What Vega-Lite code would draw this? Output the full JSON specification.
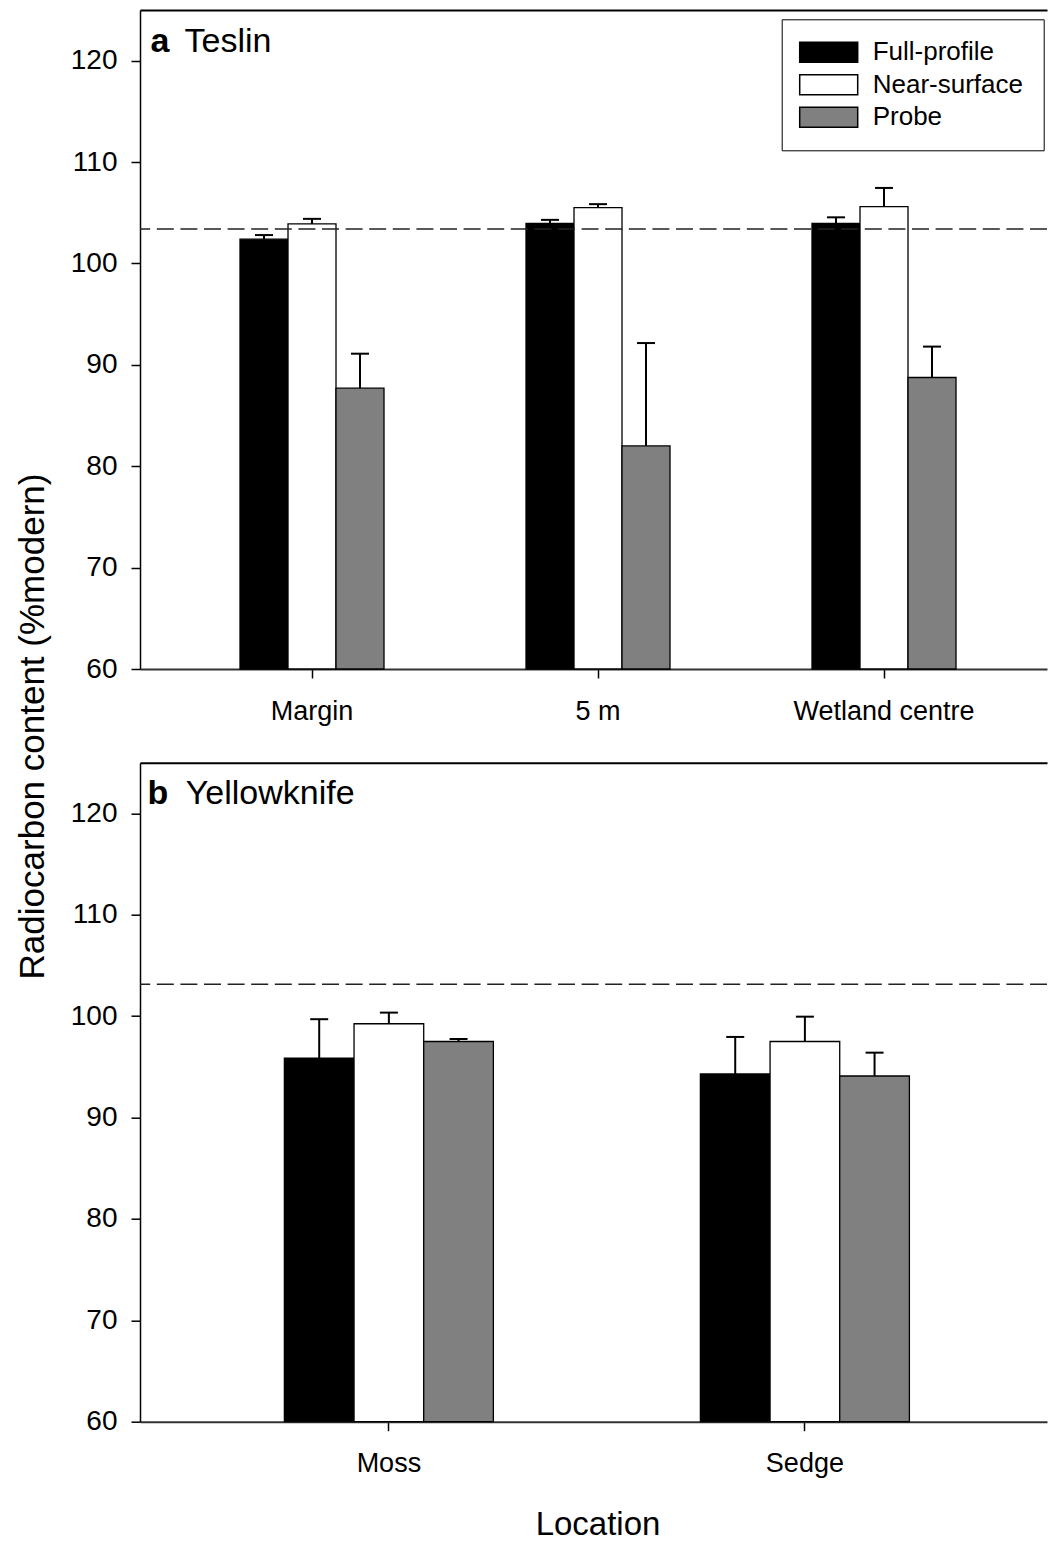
{
  "$schema": "https://vega.github.io/schema/vega-lite/v6.json",
  "usermeta": {"embedOptions": {"actions": false}},
  "padding": {"left": 15, "top": 10, "right": 0, "bottom": 0},
  "autosize": {"type": "pad"},
  "background": "white",
  "config": {"font": "Liberation Sans", "view": {"stroke": null}, "axis": {"grid": false}},
  "datasets": {
    "teslin": [
      {"site": "Margin", "type": "Full-profile", "value": 102.4, "upper": 102.8},
      {"site": "Margin", "type": "Near-surface", "value": 103.9, "upper": 104.4},
      {"site": "Margin", "type": "Probe", "value": 87.7, "upper": 91.1},
      {"site": "5 m", "type": "Full-profile", "value": 103.95, "upper": 104.3},
      {"site": "5 m", "type": "Near-surface", "value": 105.5, "upper": 105.85},
      {"site": "5 m", "type": "Probe", "value": 82.0, "upper": 92.15},
      {"site": "Wetland centre", "type": "Full-profile", "value": 103.95, "upper": 104.55},
      {"site": "Wetland centre", "type": "Near-surface", "value": 105.6, "upper": 107.45},
      {"site": "Wetland centre", "type": "Probe", "value": 88.75, "upper": 91.8}
    ],
    "yellowknife": [
      {"site": "Moss", "type": "Full-profile", "value": 95.85, "upper": 99.7},
      {"site": "Moss", "type": "Near-surface", "value": 99.25, "upper": 100.35},
      {"site": "Moss", "type": "Probe", "value": 97.5, "upper": 97.75},
      {"site": "Sedge", "type": "Full-profile", "value": 94.3, "upper": 97.95},
      {"site": "Sedge", "type": "Near-surface", "value": 97.5, "upper": 99.95},
      {"site": "Sedge", "type": "Probe", "value": 94.1, "upper": 96.4}
    ]
  },
  "bounds": "flush",
  "spacing": 93.7,
  "resolve": {
    "scale": {"x": "independent", "y": "independent", "fill": "independent", "xOffset": "independent"},
    "legend": {"fill": "independent"}
  },
  "vconcat": [
    {
      "width": 907,
      "height": 659,
      "data": {"name": "teslin"},
      "layer": [
        {
          "mark": {"type": "bar", "stroke": "black", "strokeWidth": 1.3},
          "encoding": {
            "x": {
              "field": "site", "type": "nominal",
              "scale": {"domain": ["Margin", "5 m", "Wetland centre"], "paddingInner": 0.4965, "paddingOuter": 0.3339, "align": 0.5236},
              "axis": {"orient": "bottom", "title": null, "labelAngle": 0, "labelLimit": 400, "labelFontSize": 27, "labelColor": "black", "labelPadding": 20, "tickSize": 9, "tickColor": "black", "tickWidth": 1.5, "domainColor": "#333", "domainWidth": 2}
            },
            "xOffset": {"field": "type", "type": "nominal", "scale": {"domain": ["Full-profile", "Near-surface", "Probe"]}},
            "y": {
              "field": "value", "type": "quantitative",
              "scale": {"domain": [60, 125], "nice": false, "zero": false},
              "axis": {"orient": "left", "values": [60, 70, 80, 90, 100, 110, 120], "title": "Radiocarbon content (%modern)", "titleFontSize": 35, "titleFontWeight": "normal", "titleColor": "black", "titleAngle": 270, "titleX": -97, "titleY": 716, "titleBaseline": "alphabetic", "titleAlign": "center", "labelFontSize": 28, "labelColor": "black", "labelPadding": 14, "tickSize": 9, "tickColor": "black", "tickWidth": 1.5, "domainColor": "black", "domainWidth": 1.5}
            },
            "y2": {"datum": 60},
            "fill": {
              "field": "type", "type": "nominal",
              "scale": {"domain": ["Full-profile", "Near-surface", "Probe"], "range": ["#000000", "#ffffff", "#808080"]},
              "legend": {"orient": "none", "legendX": 641.7, "legendY": 9.3, "title": null, "direction": "vertical", "padding": 20, "strokeColor": "black", "fillColor": "white", "cornerRadius": 0, "symbolType": "M-1.5,-1H4.3V1H-1.5Z", "symbolSize": 400, "symbolStrokeColor": "black", "symbolStrokeWidth": 1.5, "symbolOpacity": 1, "labelFontSize": 26, "labelColor": "black", "labelOffset": 45, "rowPadding": 6.5}
            }
          }
        },
        {
          "mark": {"type": "rule", "color": "black", "strokeWidth": 2},
          "encoding": {
            "x": {"field": "site", "type": "nominal", "axis": {"orient": "top", "title": null, "labels": false, "ticks": false, "domain": true, "domainColor": "black", "domainWidth": 2}},
            "xOffset": {"field": "type", "type": "nominal"},
            "y": {"field": "value", "type": "quantitative"},
            "y2": {"field": "upper"}
          }
        },
        {
          "mark": {"type": "tick", "size": 18, "thickness": 2, "color": "black", "opacity": 1},
          "encoding": {
            "x": {"field": "site", "type": "nominal", "axis": null},
            "xOffset": {"field": "type", "type": "nominal"},
            "y": {"field": "upper", "type": "quantitative"}
          }
        },
        {
          "data": {"values": [{"ref": 103.4}]},
          "mark": {"type": "rule", "color": "#222", "strokeWidth": 1.5, "strokeDash": [17, 6.6]},
          "encoding": {"y": {"field": "ref", "type": "quantitative"}}
        },
        {
          "data": {"values": [{"label": "a"}]},
          "mark": {"type": "text", "fontSize": 34, "fontWeight": "bold", "align": "left", "baseline": "alphabetic", "dx": -89.4, "dy": 42, "color": "black"},
          "encoding": {"x": {"datum": "Margin", "bandPosition": 0, "axis": null}, "y": {"datum": 125}, "text": {"field": "label"}}
        },
        {
          "data": {"values": [{"label": "Teslin"}]},
          "mark": {"type": "text", "fontSize": 34, "fontWeight": "normal", "align": "left", "baseline": "alphabetic", "dx": -55.5, "dy": 42, "color": "black"},
          "encoding": {"x": {"datum": "Margin", "bandPosition": 0, "axis": null}, "y": {"datum": 125}, "text": {"field": "label"}}
        }
      ]
    },
    {
      "width": 907,
      "height": 659,
      "data": {"name": "yellowknife"},
      "layer": [
        {
          "mark": {"type": "bar", "stroke": "black", "strokeWidth": 1.3},
          "encoding": {
            "x": {
              "field": "site", "type": "nominal",
              "scale": {"domain": ["Moss", "Sedge"], "paddingInner": 0.4976, "paddingOuter": 0.3389, "align": 0.512},
              "axis": {"orient": "bottom", "title": "Location", "titleFontSize": 33, "titleFontWeight": "normal", "titleColor": "black", "titleX": 457.5, "titleY": 112.6, "titleBaseline": "alphabetic", "titleAlign": "center", "labelAngle": 0, "labelLimit": 400, "labelFontSize": 27, "labelColor": "black", "labelPadding": 20, "tickSize": 9, "tickColor": "black", "tickWidth": 1.5, "domainColor": "#333", "domainWidth": 2}
            },
            "xOffset": {"field": "type", "type": "nominal", "scale": {"domain": ["Full-profile", "Near-surface", "Probe"]}},
            "y": {
              "field": "value", "type": "quantitative",
              "scale": {"domain": [60, 125], "nice": false, "zero": false},
              "axis": {"orient": "left", "values": [60, 70, 80, 90, 100, 110, 120], "title": " ", "labelFontSize": 28, "labelColor": "black", "labelPadding": 14, "tickSize": 9, "tickColor": "black", "tickWidth": 1.5, "domainColor": "black", "domainWidth": 1.5}
            },
            "y2": {"datum": 60},
            "fill": {
              "field": "type", "type": "nominal",
              "scale": {"domain": ["Full-profile", "Near-surface", "Probe"], "range": ["#000000", "#ffffff", "#808080"]},
              "legend": null
            }
          }
        },
        {
          "mark": {"type": "rule", "color": "black", "strokeWidth": 2},
          "encoding": {
            "x": {"field": "site", "type": "nominal", "axis": {"orient": "top", "title": null, "labels": false, "ticks": false, "domain": true, "domainColor": "black", "domainWidth": 2}},
            "xOffset": {"field": "type", "type": "nominal"},
            "y": {"field": "value", "type": "quantitative"},
            "y2": {"field": "upper"}
          }
        },
        {
          "mark": {"type": "tick", "size": 18, "thickness": 2, "color": "black", "opacity": 1},
          "encoding": {
            "x": {"field": "site", "type": "nominal", "axis": null},
            "xOffset": {"field": "type", "type": "nominal"},
            "y": {"field": "upper", "type": "quantitative"}
          }
        },
        {
          "data": {"values": [{"ref": 103.15}]},
          "mark": {"type": "rule", "color": "#222", "strokeWidth": 1.5, "strokeDash": [17, 6.6]},
          "encoding": {"y": {"field": "ref", "type": "quantitative"}}
        },
        {
          "data": {"values": [{"label": "b"}]},
          "mark": {"type": "text", "fontSize": 34, "fontWeight": "bold", "align": "left", "baseline": "alphabetic", "dx": -136.8, "dy": 41.5, "color": "black"},
          "encoding": {"x": {"datum": "Moss", "bandPosition": 0, "axis": null}, "y": {"datum": 125}, "text": {"field": "label"}}
        },
        {
          "data": {"values": [{"label": "Yellowknife"}]},
          "mark": {"type": "text", "fontSize": 34, "fontWeight": "normal", "align": "left", "baseline": "alphabetic", "dx": -98.6, "dy": 41.5, "color": "black"},
          "encoding": {"x": {"datum": "Moss", "bandPosition": 0, "axis": null}, "y": {"datum": 125}, "text": {"field": "label"}}
        }
      ]
    }
  ]
}
